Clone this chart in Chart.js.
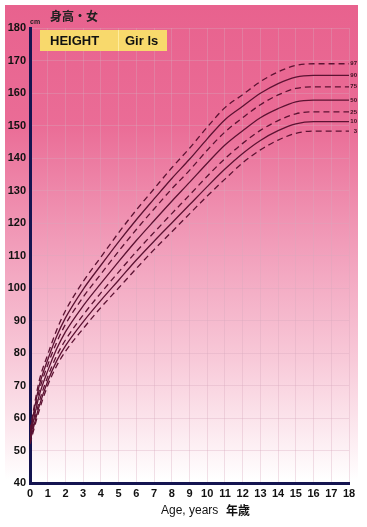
<!DOCTYPE html>
<html>
<head>
<meta charset="utf-8">
<script src="https://cdn.jsdelivr.net/npm/chart.js@4.4.1/dist/chart.umd.min.js"></script>
<style>
  html, body { margin: 0; padding: 0; background: #fff; }
  #wrap { width: 367px; height: 527px; position: relative; }
</style>
</head>
<body>
<div id="wrap"><canvas id="heightChart"></canvas></div>
<script>
// ages in years
const ages = [0, 0.5, 1, 1.5, 2, 3, 4, 5, 6, 7, 8, 9, 10, 11, 12, 13, 14, 15, 16, 17, 18];
// height (cm) by percentile
const p3  = [52.0, 62.0, 70.0, 76.0, 80.5, 87.5, 94.0, 100.0, 106.0, 111.8, 117.3, 122.8, 128.3, 133.5, 138.5, 142.5, 145.5, 147.6, 148.3, 148.3, 148.3];
const p10 = [52.8, 63.3, 71.3, 77.5, 82.2, 89.6, 96.2, 102.4, 108.6, 114.4, 120.0, 125.6, 131.2, 136.6, 141.4, 145.4, 148.4, 150.5, 151.2, 151.2, 151.2];
const p25 = [53.5, 64.6, 72.7, 79.1, 84.0, 91.7, 98.5, 104.9, 111.2, 117.1, 122.9, 128.6, 134.4, 139.8, 144.5, 148.5, 151.5, 153.6, 154.2, 154.2, 154.2];
const p50 = [54.0, 66.5, 74.5, 81.2, 86.5, 94.5, 101.4, 108.1, 114.6, 120.7, 126.7, 132.5, 138.4, 144.0, 148.4, 152.4, 155.2, 157.3, 157.8, 157.8, 157.8];
const p75 = [54.8, 68.0, 76.3, 83.2, 88.8, 97.2, 104.3, 111.3, 118.0, 124.3, 130.5, 136.2, 142.4, 148.0, 152.4, 156.4, 159.4, 161.4, 161.9, 161.9, 161.9];
const p90 = [55.5, 69.5, 77.9, 85.1, 90.8, 99.6, 107.0, 114.2, 121.0, 127.4, 133.7, 139.6, 145.9, 151.8, 155.9, 159.9, 162.9, 164.9, 165.4, 165.4, 165.4];
const p97 = [56.2, 71.0, 79.5, 87.0, 93.0, 102.0, 109.5, 117.0, 124.0, 130.5, 137.0, 143.0, 149.5, 155.5, 159.5, 163.5, 166.5, 168.5, 169.0, 169.0, 169.0];

const percentileLabels = ['3', '10', '25', '50', '75', '90', '97'];
const percentileSeries = [p3, p10, p25, p50, p75, p90, p97];
const dashedPercentiles = ['3', '25', '75', '97'];

const xTicks = [0, 18];      // age range, every year
const yTicks = [40, 180];    // height range, every 10 cm

const CURVE = '#5c1232';
const AXIS = '#141450';
const GRID = 'rgba(215,170,190,0.35)';

const datasets = percentileSeries.map((vals, i) => ({
  label: percentileLabels[i],
  data: ages.map((a, j) => ({ x: a, y: vals[j] })),
  borderColor: CURVE,
  borderWidth: 1.3,
  borderDash: dashedPercentiles.includes(percentileLabels[i]) ? [6, 4] : [],
  pointRadius: 0,
  fill: false,
  cubicInterpolationMode: 'monotone'
}));

const chartDecor = {
  id: 'chartDecor',
  beforeDraw(chart) {
    const ctx = chart.ctx;
    ctx.save();
    const g = ctx.createLinearGradient(0, 5, 0, 480);
    g.addColorStop(0, '#e8628e');
    g.addColorStop(0.25, '#ea6c96');
    g.addColorStop(0.5, '#f19cb9');
    g.addColorStop(0.75, '#f8cad9');
    g.addColorStop(0.93, '#fdf0f4');
    g.addColorStop(1, '#ffffff');
    ctx.fillStyle = g;
    ctx.fillRect(5, 5, 353, 522);
    ctx.restore();
  },
  afterDraw(chart) {
    const ctx = chart.ctx;
    const ys = chart.scales.y;
    ctx.save();
    // yellow title box
    ctx.fillStyle = '#f8d96c';
    ctx.fillRect(40, 30, 127, 21);
    ctx.strokeStyle = 'rgba(255,240,170,0.8)';
    ctx.lineWidth = 1;
    ctx.beginPath();
    ctx.moveTo(118.5, 30);
    ctx.lineTo(118.5, 51);
    ctx.stroke();
    ctx.fillStyle = '#111';
    ctx.font = 'bold 13px "Liberation Sans", Arial, sans-serif';
    ctx.textBaseline = 'middle';
    ctx.textAlign = 'left';
    ctx.fillText('HEIGHT', 50, 41);
    ctx.fillText('Gir ls', 125, 41);
    // chart title
    ctx.font = 'bold 12px "Noto Sans CJK TC", sans-serif';
    ctx.fillStyle = '#222';
    ctx.fillText('身高・女', 50, 16);
    // unit
    ctx.font = 'bold 7px "Liberation Sans", Arial, sans-serif';
    ctx.fillText('cm', 30, 22);
    // x axis title
    ctx.font = '12px "Liberation Sans", Arial, sans-serif';
    ctx.fillStyle = '#111';
    ctx.fillText('Age, years', 161, 511);
    ctx.font = 'bold 12px "Noto Sans CJK TC", sans-serif';
    ctx.fillText('年歲', 226, 510);
    // percentile labels at right end
    ctx.font = 'bold 6px "Liberation Sans", Arial, sans-serif';
    ctx.fillStyle = '#3a1020';
    ctx.textAlign = 'right';
    percentileSeries.forEach((vals, i) => {
      ctx.fillText(percentileLabels[i], 357, ys.getPixelForValue(vals[vals.length - 1]));
    });
    ctx.restore();
  }
};

new Chart(document.getElementById('heightChart'), {
  type: 'line',
  data: { datasets },
  plugins: [chartDecor],
  options: {
    responsive: true,
    maintainAspectRatio: false,
    animation: false,
    layout: { padding: { top: 28, right: 18, left: 0, bottom: 0 } },
    plugins: {
      legend: { display: false },
      tooltip: { enabled: false }
    },
    scales: {
      x: {
        type: 'linear',
        min: xTicks[0],
        max: xTicks[1],
        afterFit(scale) { scale.height = 44; },
        ticks: {
          stepSize: 1,
          autoSkip: false,
          maxRotation: 0,
          minRotation: 0,
          padding: 4,
          color: '#111',
          font: { family: '"Liberation Sans", Arial, sans-serif', size: 11, weight: 'bold' }
        },
        grid: { color: GRID, drawTicks: false },
        border: { color: AXIS, width: 3 }
      },
      y: {
        min: yTicks[0],
        max: yTicks[1],
        afterFit(scale) { scale.width = 30; },
        ticks: {
          stepSize: 10,
          padding: 4,
          color: '#111',
          font: { family: '"Liberation Sans", Arial, sans-serif', size: 11, weight: 'bold' }
        },
        grid: { color: GRID, drawTicks: false },
        border: { color: AXIS, width: 3 }
      }
    }
  }
});
</script>
</body>
</html>
